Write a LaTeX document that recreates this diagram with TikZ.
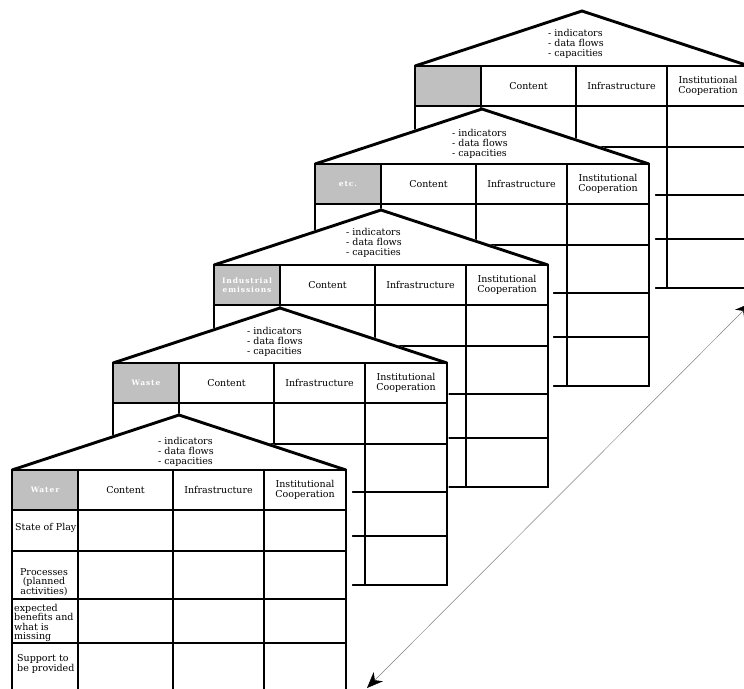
\documentclass[tikz,border=0pt]{standalone}
\usepackage{fontspec}
\setmainfont{DejaVu Serif}
\newfontfamily\lblfont[LetterSpace=12]{DejaVu Serif}
\usetikzlibrary{arrows.meta}
\definecolor{graycell}{RGB}{192,192,192}
\tikzset{
  hline/.style={line width=2.9pt},
  hdr/.style={font=\fontsize{9.5}{10}\selectfont, align=center, inner sep=0pt},
  rooftxt/.style={font=\fontsize{9.5}{10}\selectfont, align=left, inner sep=0pt, anchor=west},
  graylbl/.style={font=\lblfont\bfseries\fontsize{7.5}{9}\selectfont, text=white, align=center, inner sep=0pt},
  rowlbl/.style={font=\fontsize{9.5}{9.3}\selectfont, inner sep=0pt},
  occl/.style={white, line width=3pt, line join=round},
}
% #1 prefix, #2 left x, #3 table top y, #4 gray label, #5 extra right margin, #6 #7 roof text position
\newcommand\houseblock[7]{%
\begin{scope}[shift={(#2,#3)}]
  \fill[white] (0,0) -- (167,-55) -- (334,0) -- (334+#5,0) -- (334+#5,222) -- (0,222) -- cycle;
  \draw[occl] (0,0) -- (167,-55) -- (334,0) -- (334,222) -- (0,222) -- cycle;
  \fill[graycell] (0,0) rectangle (66,40);
  \draw[hline] (0,0) -- (167,-55) -- (334,0);
  \draw[hline] (0,0) rectangle (334,222);
  \foreach \yy in {40,81,129,173} \draw[hline] (0,\yy) -- (334,\yy);
  \foreach \xx in {66,161,252} \draw[hline] (\xx,0) -- (\xx,222);
  \node[rooftxt] (#1-roof) at (#6,#7) {- indicators\\- data flows\\- capacities};
  \node[graylbl] (#1-gray) at (33,20) {#4};
  \node[hdr] (#1-con) at (113.5,20) {Content};
  \node[hdr] (#1-inf) at (206.5,20) {Infrastructure};
  \node[hdr] (#1-ins) at (293,20) {Institutional\\Cooperation};
\end{scope}}

\begin{document}
\begin{tikzpicture}[x=1pt,y=-1pt]
\useasboundingbox (0,0) rectangle (744,688);
\clip (0,0) rectangle (744,688);
\fill[white] (0,0) rectangle (744,688);

\houseblock{h5}{415}{66}{}{0}{133}{-22}
\houseblock{h4}{315}{164}{etc.}{6}{137}{-20}
\houseblock{h3}{214}{265}{Industrial\\emissions}{5}{132}{-22}
\houseblock{h2}{113}{363}{Waste}{1}{134}{-21}
\houseblock{h1}{12}{470}{Water}{6}{146}{-18}

\node[rowlbl, anchor=west] (sop) at (15,528) {State of Play};
\node[rowlbl, align=center] (proc) at (44,582) {Processes\\(planned\\activities)};
\node[rowlbl, align=left, anchor=west] (exp) at (14,623) {expected\\benefits and\\what is\\missing};
\node[rowlbl, align=left, anchor=west] (sup) at (17,664) {Support to\\be provided};

\coordinate (a1) at (367,688);
\coordinate (a2) at (751,303);
\draw[gray, line width=0.5pt, {Stealth[length=16pt,width=13pt,inset=5pt,black]}-{Stealth[length=16pt,width=13pt,inset=5pt,black]}] (a1) -- (a2);
\end{tikzpicture}
\end{document}
